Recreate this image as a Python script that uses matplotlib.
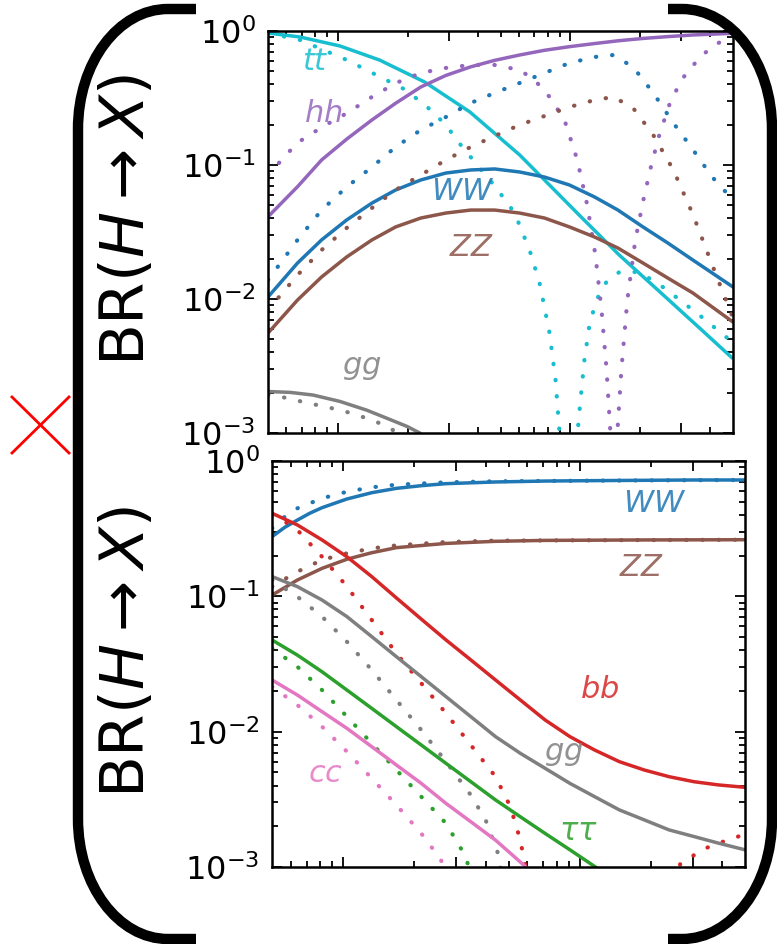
import numpy as np
import matplotlib.pyplot as plt
from matplotlib.ticker import FixedLocator, LogLocator, NullFormatter
from matplotlib.path import Path
from matplotlib.patches import PathPatch

# ---- data (x: mass scale, y: branching ratio) ----
# top panel
top_tt_m = [0.5, 0.687, 1.02, 1.51, 2.36, 3.69, 6.04, 7.73, 10.9, 16.2, 24.1, 35.8, 49.6]
top_tt_br = [0.966, 0.902, 0.773, 0.607, 0.416, 0.249, 0.119, 0.0773, 0.0423, 0.0213, 0.0114, 0.0061, 0.00363]
top_tt_dot_m = [0.5, 0.687, 1.093, 1.958, 2.507, 2.908, 3.373, 4.068, 4.765, 5.751, 6.668, 7.362,
                8.127, 8.623, 8.971, 9.8, 10.72, 11.04, 11.48, 12.06, 12.93, 14.27, 16.23, 19.78,
                25.32, 35.78, 49.59]
top_tt_dot_br = [0.966, 0.857, 0.607, 0.363, 0.257, 0.199, 0.141, 0.095, 0.0685, 0.0438, 0.0232, 0.0132,
                 0.00557, 0.00249, 0.001, 1e-7, 0.001, 0.00176, 0.00351, 0.0064, 0.00983, 0.01339, 0.0159,
                 0.0159, 0.01208, 0.0076, 0.00478]

top_m = [0.5, 0.67, 0.85, 1.09, 1.4, 1.77, 2.27, 2.91, 3.72, 4.72, 6.04, 7.73, 9.9, 12.7, 16.0,
         20.5, 26.2, 33.6, 50]
top_hh_br = [0.0411, 0.0689, 0.109, 0.156, 0.217, 0.289, 0.382, 0.466, 0.540, 0.604, 0.662, 0.718,
             0.764, 0.806, 0.845, 0.880, 0.908, 0.934, 0.961]
top_hh_dot_m = [0.5, 0.667, 0.854, 1.093, 1.399, 1.774, 2.271, 2.908, 3.723, 4.718, 6.04, 7.01, 8.13,
                9.42, 10.7, 11.8, 12.8, 13.6, 14.3, 14.85, 15.4, 15.9, 16.55, 17.56, 19.01, 20.58,
                22.27, 24.1, 26.6, 29.95, 35.8, 41.5, 50]
top_hh_dot_br = [0.0842, 0.146, 0.192, 0.244, 0.322, 0.409, 0.486, 0.530, 0.558, 0.558, 0.512, 0.431, 0.322,
                 0.217, 0.109, 0.0503, 0.0213, 0.00828, 0.00295, 0.001, 1e-7, 0.001, 0.00295, 0.00983,
                 0.0276, 0.0548, 0.1, 0.1675, 0.2805, 0.431, 0.629, 0.786, 0.918]

top_ww_br = [0.01035, 0.01856, 0.0276, 0.0389, 0.052, 0.0651, 0.0773, 0.0871, 0.0918, 0.0934, 0.0887,
             0.0813, 0.0709, 0.0577, 0.0461, 0.0345, 0.0262, 0.01954, 0.01229]
top_zz_br = [0.00557, 0.00983, 0.0146, 0.0206, 0.0276, 0.0345, 0.0402, 0.0438, 0.0461, 0.0461, 0.0438,
             0.0402, 0.0345, 0.029, 0.024, 0.01856, 0.01434, 0.01109, 0.00673]

top_dot_m = [0.5, 0.67, 0.85, 1.09, 1.4, 1.77, 2.27, 2.91, 3.72, 4.72, 6.04, 7.73, 9.9, 12.7, 15.3,
             18.6, 22.7, 27.7, 33.7, 40.7, 50]
top_ww_dot_br = [0.01386, 0.0276, 0.0461, 0.0685, 0.0966, 0.1363, 0.1825, 0.228, 0.29, 0.345, 0.409,
                 0.486, 0.577, 0.64, 0.662, 0.538, 0.345, 0.2058, 0.1294, 0.0813, 0.0548]
top_zz_dot_br = [0.00828, 0.0151, 0.0232, 0.0339, 0.0478, 0.0651, 0.0842, 0.109, 0.1363, 0.1646, 0.199,
                 0.232, 0.271, 0.3055, 0.322, 0.266, 0.1675, 0.0918, 0.0423, 0.01794, 0.00721]

top_gg_m = [0.5, 0.622, 0.781, 1.02, 1.33, 1.62, 1.98, 2.25, 2.74]
top_gg_br = [0.00204, 0.00201, 0.00192, 0.00172, 0.00148, 0.00129, 0.00112, 0.001, 0.0006]
top_gg_dot_m = [0.5, 0.604, 0.736, 0.897, 1.093, 1.28, 1.47, 1.623, 1.722, 1.845]
top_gg_dot_br = [0.00193, 0.001825, 0.001675, 0.001563, 0.001434, 0.001316, 0.001208, 0.001108,
                 0.001053, 0.0008]

# bottom panel
bot_m = [0.5, 0.64, 0.814, 1.037, 1.32, 1.679, 2.138, 2.721, 3.464, 4.406, 5.61, 7.141, 9.091,
         11.56, 14.72, 18.74, 23.86, 30.38, 38.64, 50]
bot_ww_m = [0.5, 0.567, 0.64, 0.722, 0.814, 1.037, 1.32, 1.679, 2.138, 2.721, 4.406, 7.141, 11.56,
            18.74, 30.38, 50]
bot_ww_br = [0.276, 0.324, 0.366, 0.411, 0.452, 0.524, 0.583, 0.628, 0.657, 0.68, 0.70, 0.711, 0.716,
             0.72, 0.724, 0.724]
bot_ww_dot_m = [0.5, 0.567, 0.64, 0.814, 1.037, 1.32, 1.679, 2.721, 4.406, 11.56, 50]
bot_ww_dot_br = [0.318, 0.388, 0.447, 0.53, 0.593, 0.639, 0.668, 0.696, 0.708, 0.716, 0.724]
bot_zz_m = [0.5, 0.64, 0.814, 1.037, 1.32, 1.679, 2.721, 4.406, 7.141, 18.74, 50]
bot_zz_br = [0.102, 0.132, 0.161, 0.188, 0.21, 0.229, 0.246, 0.255, 0.259, 0.261, 0.262]
bot_zz_dot_m = [0.5, 0.64, 0.814, 1.037, 1.32, 1.679, 2.721, 4.406, 50]
bot_zz_dot_br = [0.118, 0.152, 0.186, 0.208, 0.226, 0.238, 0.252, 0.258, 0.262]
bot_bb_br = [0.411, 0.337, 0.261, 0.196, 0.14, 0.0973, 0.0679, 0.0476, 0.0339, 0.0241, 0.01714, 0.0122,
             0.00919, 0.00732, 0.006, 0.00521, 0.00465, 0.00427, 0.00404, 0.00388]
bot_bb_dot_m = [0.5, 0.567, 0.64, 0.814, 1.037, 1.32, 1.679, 2.138, 2.721, 3.464, 4.406, 5.093, 5.61,
                5.888, 12.0, 26.6, 29.9, 33.6, 37.7, 42.4, 50]
bot_bb_dot_br = [0.399, 0.356, 0.309, 0.196, 0.118, 0.0669, 0.0379, 0.0228, 0.01366, 0.00797, 0.00465,
                 0.00279, 0.00158, 0.00101, 1e-7, 0.00105, 0.0012, 0.00136, 0.00148, 0.00158, 0.00175]
bot_gg_br = [0.14, 0.118, 0.0939, 0.0708, 0.0504, 0.0358, 0.0255, 0.01814, 0.01291, 0.00919, 0.00692,
             0.00536, 0.00415, 0.00331, 0.00264, 0.00223, 0.00188, 0.00168, 0.0015, 0.00134]
bot_gg_dot_m = [0.5, 0.64, 0.814, 1.037, 1.32, 1.679, 2.138, 2.721, 3.464, 4.0, 4.515, 4.74]
bot_gg_dot_br = [0.132, 0.0994, 0.0708, 0.0462, 0.0286, 0.01714, 0.01029, 0.006, 0.0034, 0.00223,
                 0.00126, 0.00075]
bot_tau_m = [0.5, 0.64, 0.814, 1.037, 1.32, 1.679, 2.138, 2.721, 3.464, 4.406, 5.61, 7.141, 9.091,
             11.56, 14.72]
bot_tau_br = [0.0476, 0.0368, 0.0277, 0.0203, 0.01487, 0.01089, 0.00797, 0.00583, 0.00427, 0.00313,
              0.00235, 0.00177, 0.00134, 0.00101, 0.00075]
bot_tau_dot_m = [0.5, 0.64, 0.814, 1.037, 1.32, 1.679, 2.138, 2.721, 3.3, 3.546]
bot_tau_dot_br = [0.0413, 0.0302, 0.0203, 0.01291, 0.0082, 0.00521, 0.00331, 0.0021, 0.00119, 0.00075]
bot_cc_m = [0.5, 0.64, 0.814, 1.037, 1.32, 1.679, 2.138, 2.721, 3.464, 4.406, 5.888, 7.0]
bot_cc_br = [0.0241, 0.01866, 0.01405, 0.01058, 0.00775, 0.00567, 0.00415, 0.00295, 0.00216, 0.00158,
             0.00101, 0.00075]
bot_cc_dot_m = [0.5, 0.64, 0.814, 1.037, 1.32, 1.679, 2.138, 2.593, 2.721]
bot_cc_dot_br = [0.0215, 0.01574, 0.01089, 0.00712, 0.00452, 0.00287, 0.00177, 0.00113, 0.00075]

x_major = [1, 3, 10, 30]
x_minor = [0.6, 0.7, 0.8, 0.9, 2, 4, 5, 6, 7, 8, 9, 20, 40]

c_tt, c_hh, c_ww, c_zz = "tab:cyan", "tab:purple", "tab:blue", "tab:brown"
c_gg, c_bb, c_tau, c_cc = "tab:gray", "tab:red", "tab:green", "tab:pink"

W, H = 777, 944
fig = plt.figure(figsize=(W / 100, H / 100), dpi=100)


def px_axes(l, t, r, b):
    return fig.add_axes([l / W, 1 - b / H, (r - l) / W, (b - t) / H])


ax1 = px_axes(268, 31, 733, 433)
ax2 = px_axes(272, 461, 745, 867)

solid = dict(lw=2.5, solid_capstyle="round")
dotted = dict(lw=3.0, linestyle=(0, (0.1, 3.8)), dash_capstyle="round")

# top panel
ax1.plot(top_tt_m, top_tt_br, color=c_tt, **solid)
ax1.plot(top_tt_dot_m, top_tt_dot_br, color=c_tt, **dotted)
ax1.plot(top_m, top_hh_br, color=c_hh, **solid)
ax1.plot(top_hh_dot_m, top_hh_dot_br, color=c_hh, **dotted)
ax1.plot(top_m, top_ww_br, color=c_ww, **solid)
ax1.plot(top_dot_m, top_ww_dot_br, color=c_ww, **dotted)
ax1.plot(top_m, top_zz_br, color=c_zz, **solid)
ax1.plot(top_dot_m, top_zz_dot_br, color=c_zz, **dotted)
ax1.plot(top_gg_m, top_gg_br, color=c_gg, **solid)
ax1.plot(top_gg_dot_m, top_gg_dot_br, color=c_gg, **dotted)

# bottom panel
ax2.plot(bot_ww_m, bot_ww_br, color=c_ww, **solid)
ax2.plot(bot_ww_dot_m, bot_ww_dot_br, color=c_ww, **dotted)
ax2.plot(bot_zz_m, bot_zz_br, color=c_zz, **solid)
ax2.plot(bot_zz_dot_m, bot_zz_dot_br, color=c_zz, **dotted)
ax2.plot(bot_m, bot_bb_br, color=c_bb, **solid)
ax2.plot(bot_bb_dot_m, bot_bb_dot_br, color=c_bb, **dotted)
ax2.plot(bot_m, bot_gg_br, color=c_gg, **solid)
ax2.plot(bot_gg_dot_m, bot_gg_dot_br, color=c_gg, **dotted)
ax2.plot(bot_tau_m, bot_tau_br, color=c_tau, **solid)
ax2.plot(bot_tau_dot_m, bot_tau_dot_br, color=c_tau, **dotted)
ax2.plot(bot_cc_m, bot_cc_br, color=c_cc, **solid)
ax2.plot(bot_cc_dot_m, bot_cc_dot_br, color=c_cc, **dotted)

for ax in (ax1, ax2):
    ax.set_xscale("log")
    ax.set_yscale("log")
    ax.set_xlim(0.5, 50)
    ax.set_ylim(1e-3, 1)
    ax.xaxis.set_major_locator(FixedLocator(x_major))
    ax.xaxis.set_minor_locator(FixedLocator(x_minor))
    ax.xaxis.set_major_formatter(NullFormatter())
    ax.xaxis.set_minor_formatter(NullFormatter())
    ax.yaxis.set_major_locator(LogLocator(base=10, numticks=10))
    ax.yaxis.set_minor_locator(LogLocator(base=10, subs=np.arange(2, 10), numticks=10))
    ax.yaxis.set_minor_formatter(NullFormatter())
    ax.tick_params(which="both", direction="in", top=True, right=True, width=1.3,
                   labelsize=23, pad=9)
    ax.tick_params(which="major", length=7)
    ax.tick_params(which="minor", length=4)
    for s in ax.spines.values():
        s.set_linewidth(1.8)

# overlay in pixel coordinates for brackets, cross and curve labels
ov = fig.add_axes([0, 0, 1, 1], zorder=5)
ov.set_xlim(0, W)
ov.set_ylim(H, 0)
ov.axis("off")

k = 0.5523
left = Path([(196, 9), (168, 9), (168 - 90 * k, 9), (78, 129 - 120 * k), (78, 129),
             (78, 819), (78, 819 + 120 * k), (168 - 90 * k, 939), (168, 939), (196, 939)],
            [Path.MOVETO, Path.LINETO, Path.CURVE4, Path.CURVE4, Path.CURVE4,
             Path.LINETO, Path.CURVE4, Path.CURVE4, Path.CURVE4, Path.LINETO])
right = Path([(668, 9), (682, 9), (682 + 90 * k, 9), (772, 129 - 120 * k), (772, 129),
              (772, 819), (772, 819 + 120 * k), (682 + 90 * k, 939), (682, 939), (668, 939)],
             [Path.MOVETO, Path.LINETO, Path.CURVE4, Path.CURVE4, Path.CURVE4,
              Path.LINETO, Path.CURVE4, Path.CURVE4, Path.CURVE4, Path.LINETO])
for p in (left, right):
    ov.add_patch(PathPatch(p, facecolor="none", edgecolor="black", lw=7.5, capstyle="butt"))

ov.plot([12, 69], [397, 453], color="red", lw=2)
ov.plot([69, 12], [397, 453], color="red", lw=2)

fig.text(128 / W, 1 - 220 / H, r"BR$(H\rightarrow X)$", rotation=90, ha="center", va="center",
         fontsize=44)
fig.text(128 / W, 1 - 652 / H, r"BR$(H\rightarrow X)$", rotation=90, ha="center", va="center",
         fontsize=44)

lab = dict(ha="center", va="center", fontsize=22, alpha=0.85)
ov.text(315, 61, r"$tt$", color=c_tt, **lab)
ov.text(323, 114, r"$hh$", color=c_hh, **lab)
ov.text(463, 192, r"$WW$", color=c_ww, **lab)
ov.text(472, 248, r"$ZZ$", color=c_zz, **lab)
ov.text(362, 368, r"$gg$", color=c_gg, **lab)
ov.text(655, 504, r"$WW$", color=c_ww, **lab)
ov.text(642, 568, r"$ZZ$", color=c_zz, **lab)
ov.text(600, 690, r"$bb$", color=c_bb, **lab)
ov.text(564, 753, r"$gg$", color=c_gg, **lab)
ov.text(326, 774, r"$cc$", color=c_cc, **lab)
ov.text(578, 831, r"$\tau\tau$", color=c_tau, **lab)

fig.savefig("out.png", dpi=100)
